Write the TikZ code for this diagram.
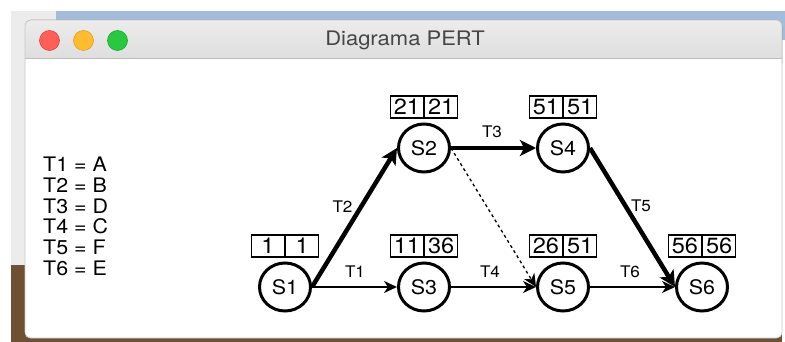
\documentclass[tikz,border=0pt]{standalone}
\usepackage{fontspec}
\setmainfont{TeX Gyre Heros}
\newfontfamily\uifont[FakeStretch=1.07]{TeX Gyre Heros}
\newfontfamily\titlefont[FakeStretch=1.1]{TeX Gyre Heros}
\usetikzlibrary{shapes.geometric, arrows.meta}

\definecolor{deskblue}{RGB}{163,188,220}
\definecolor{deskgrey}{RGB}{236,236,236}
\definecolor{wood}{RGB}{112,80,50}
\definecolor{bartop}{RGB}{236,236,236}
\definecolor{barbottom}{RGB}{218,218,218}
\definecolor{barline}{RGB}{190,190,190}
\definecolor{winedge}{RGB}{200,200,200}
\definecolor{titlegrey}{RGB}{70,70,70}
\definecolor{lightred}{RGB}{254,95,87}
\definecolor{lightredrim}{RGB}{224,68,62}
\definecolor{lightyellow}{RGB}{254,188,46}
\definecolor{lightyellowrim}{RGB}{222,161,35}
\definecolor{lightgreen}{RGB}{40,200,64}
\definecolor{lightgreenrim}{RGB}{26,171,41}

\begin{document}
\begin{tikzpicture}[x=1pt, y=-1pt,
  state/.style={ellipse, draw, line width=3pt, minimum width=51pt,
    minimum height=48pt, inner sep=0pt,
    font=\uifont\fontsize{20}{20}\selectfont},
  cell/.style={draw, line width=1.3pt, minimum width=33pt,
    minimum height=22pt, inner sep=0pt,
    font=\uifont\fontsize{22}{22}\selectfont},
  elabel/.style={inner sep=0pt, font=\uifont\fontsize{16}{16}\selectfont},
  legend/.style={anchor=base west, inner sep=0pt,
    font=\uifont\fontsize{20}{20}\selectfont},
  thinedge/.style={line width=1.4pt,
    -{Stealth[length=13pt, width=12pt, inset=4pt]}},
  thickedge/.style={line width=4.5pt,
    -{Stealth[length=16pt, width=16pt, inset=4pt]}},
  dottededge/.style={thinedge, line width=1.3pt, dash pattern=on 3pt off 3pt},
  trafficlight/.style={circle, minimum size=20pt, inner sep=0pt, line width=0.6pt}
]
\useasboundingbox (0,0) rectangle (785,342);

% desktop behind the window
\fill[white] (0,0) rectangle (785,342);
\fill[deskgrey] (11,11) rectangle (56,265);
\fill[deskblue] (56,11) rectangle (785,40);
\fill[wood] (11,265) rectangle (782,342);

% window: title bar, content area, separator and outline
\fill[top color=bartop, bottom color=barbottom, rounded corners=6pt]
  (25,20) rectangle (782,70);
\fill[white] (25,58) rectangle (782,100);
\fill[white, rounded corners=5pt] (25,80) rectangle (782,338);
\draw[barline, line width=0.8pt] (25,58) -- (782,58);
\draw[winedge, line width=0.6pt, rounded corners=6pt] (25,20) rectangle (782,338);

\node[trafficlight, fill=lightred, draw=lightredrim] (close) at (49.5,40.5) {};
\node[trafficlight, fill=lightyellow, draw=lightyellowrim] (minimise) at (83.5,40.5) {};
\node[trafficlight, fill=lightgreen, draw=lightgreenrim] (zoom) at (117.5,40.5) {};
\node[text=titlegrey, font=\titlefont\fontsize{20}{20}\selectfont] (title)
  at (405,40) {Diagrama PERT};

% task legend
\node[legend] (k1) at (43,172.0) {T1 = A};
\node[legend] (k2) at (43,192.6) {T2 = B};
\node[legend] (k3) at (43,213.2) {T3 = D};
\node[legend] (k4) at (43,233.8) {T4 = C};
\node[legend] (k5) at (43,254.4) {T5 = F};
\node[legend] (k6) at (43,275.0) {T6 = E};

% events
\node[state] (S1) at (285,287) {S1};
\node[state] (S2) at (424,148) {S2};
\node[state] (S3) at (424,287) {S3};
\node[state] (S4) at (563,148) {S4};
\node[state] (S5) at (563,287) {S5};
\node[state] (S6) at (702,287) {S6};

% earliest / latest times above each event
\node[cell, anchor=east] (e1) at (285,246) {1};
\node[cell, anchor=west] (l1) at (285,246) {1};
\node[cell, anchor=east] (e2) at (424,107) {21};
\node[cell, anchor=west] (l2) at (424,107) {21};
\node[cell, anchor=east] (e3) at (424,246) {11};
\node[cell, anchor=west] (l3) at (424,246) {36};
\node[cell, anchor=east] (e4) at (563,107) {51};
\node[cell, anchor=west] (l4) at (563,107) {51};
\node[cell, anchor=east] (e5) at (563,246) {26};
\node[cell, anchor=west] (l5) at (563,246) {51};
\node[cell, anchor=east] (e6) at (702,246) {56};
\node[cell, anchor=west] (l6) at (702,246) {56};

% activities (thick = critical path, dotted = dummy)
\draw[thinedge] (S1.east) -- node[elabel, shift={(0.5,-15)}] {T1} (S3.west);
\draw[thickedge] (S1.east) -- node[elabel, shift={(-12,-11)}] {T2} (S2.west);
\draw[thickedge] (S2.east) -- node[elabel, shift={(-1.5,-16)}] {T3} (S4.west);
\draw[thinedge] (S3.east) -- node[elabel, shift={(-3.5,-15)}] {T4} (S5.west);
\draw[thickedge] (S4.east) -- node[elabel, shift={(8.5,-12)}] {T5} (S6.west);
\draw[thinedge] (S5.east) -- node[elabel, shift={(-2.5,-15)}] {T6} (S6.west);
\draw[dottededge] (S2.east) -- (S5.west);
\end{tikzpicture}
\end{document}
